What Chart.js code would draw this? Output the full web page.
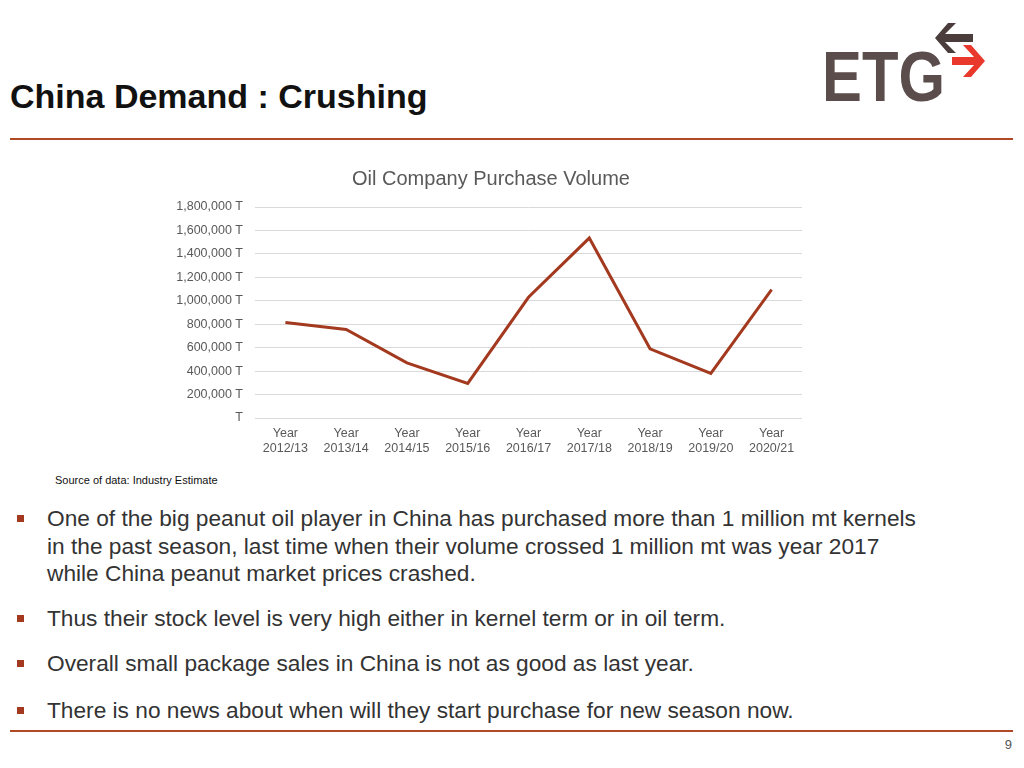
<!DOCTYPE html>
<html>
<head>
<meta charset="utf-8">
<script src="https://cdn.jsdelivr.net/npm/chart.js@4"></script>
<style>
  body { margin: 0; width: 1024px; height: 768px; background: #fff; position: relative; overflow: hidden;
         font-family: "Liberation Sans", Arial, sans-serif; }
  .title { position: absolute; left: 10px; top: 77px; font-size: 34px; font-weight: bold; color: #111; }
  .rule { position: absolute; left: 10px; width: 1003px; height: 2px; background: #b04a26; }
  #chartBox { position: absolute; left: 160px; top: 160px; width: 662px; height: 310px; }
  .source { position: absolute; left: 55px; top: 474px; font-size: 11px; color: #111; }
  .bullet { position: absolute; left: 47px; font-size: 22.7px; line-height: 27.5px; color: #333; white-space: nowrap; }
  .bullet::before { content: ""; position: absolute; left: -30px; top: 10px; width: 7px; height: 7px; background: #a33a1f; }
  .page { position: absolute; right: 12px; top: 737px; font-size: 13px; color: #555; }
</style>
</head>
<body>
<div class="title">China Demand : Crushing</div>
<svg style="position:absolute;left:813px;top:18px" width="180" height="92" viewBox="0 0 180 92">
  <text x="9" y="83" font-family="Liberation Sans, Arial" font-weight="bold" font-size="70" fill="#5a4d4b"
        textLength="123" lengthAdjust="spacingAndGlyphs">ETG</text>
  <polygon points="135,5 143,5 132,16 160,16 160,24 132,24 143,35 135,35 122,20" fill="#4a3d3b"/>
  <polygon points="150,27 158,27 172,43 158,59 150,59 161,47 139,47 139,39 161,39" fill="#e8392c"/>
</svg>
<div class="rule" style="top:138px"></div>
<div id="chartBox"><canvas id="volumeChart"></canvas></div>
<div class="source">Source of data: Industry Estimate</div>
<div class="bullet" style="top:505px">One of the big peanut oil player in China has purchased more than 1 million mt kernels<br>in the past season, last time when their volume crossed 1 million mt was year 2017<br>while China peanut market prices crashed.</div>
<div class="bullet" style="top:605px">Thus their stock level is very high either in kernel term or in oil term.</div>
<div class="bullet" style="top:650px">Overall small package sales in China is not as good as last year.</div>
<div class="bullet" style="top:697px">There is no news about when will they start purchase for new season now.</div>
<div class="rule" style="top:730px"></div>
<div class="page">9</div>

<script>
const seasons = ["2012/13", "2013/14", "2014/15", "2015/16", "2016/17", "2017/18", "2018/19", "2019/20", "2020/21"];
const purchaseVolume = [815000, 755000, 470000, 295000, 1030000, 1535000, 590000, 380000, 1095000];
const yMax = 1800000;
const yStep = 200000;

const ctx = document.getElementById("volumeChart").getContext("2d");

new Chart(ctx, {
  type: "line",
  data: {
    labels: seasons.map(s => ["Year", s]),
    datasets: [{
      label: "Oil Company Purchase Volume",
      data: purchaseVolume,
      borderColor: "#a33a1f",
      borderWidth: 3,
      pointRadius: 0,
      tension: 0,
      fill: false
    }]
  },
  options: {
    responsive: true,
    maintainAspectRatio: false,
    animation: false,
    layout: { padding: { bottom: 6 } },
    plugins: {
      legend: { display: false },
      tooltip: { enabled: false },
      title: {
        display: true,
        text: "Oil Company Purchase Volume",
        color: "#595959",
        font: { family: "Liberation Sans", size: 20, weight: "normal" },
        padding: { top: 7, bottom: 16 }
      }
    },
    scales: {
      x: {
        offset: true,
        grid: { display: false, drawTicks: false },
        border: { display: false },
        ticks: {
          color: "#595959",
          font: { family: "Liberation Sans", size: 12.5 },
          padding: 8,
          maxRotation: 0
        }
      },
      y: {
        min: 0,
        max: yMax,
        grid: { color: "#d9d9d9", drawTicks: false },
        border: { display: false },
        afterFit: axis => { axis.width = 95; },
        ticks: {
          stepSize: yStep,
          color: "#595959",
          font: { family: "Liberation Sans", size: 12.5 },
          padding: 12,
          callback: v => v === 0 ? "T" : v.toLocaleString("en-US") + " T"
        }
      },
      // empty right-hand spacer so the title stays centred on the whole chart
      spacer: {
        type: "linear",
        position: "right",
        grid: { display: false },
        border: { display: false },
        ticks: { display: false },
        afterFit: axis => { axis.width = 20; }
      }
    }
  }
});
</script>
</body>
</html>
